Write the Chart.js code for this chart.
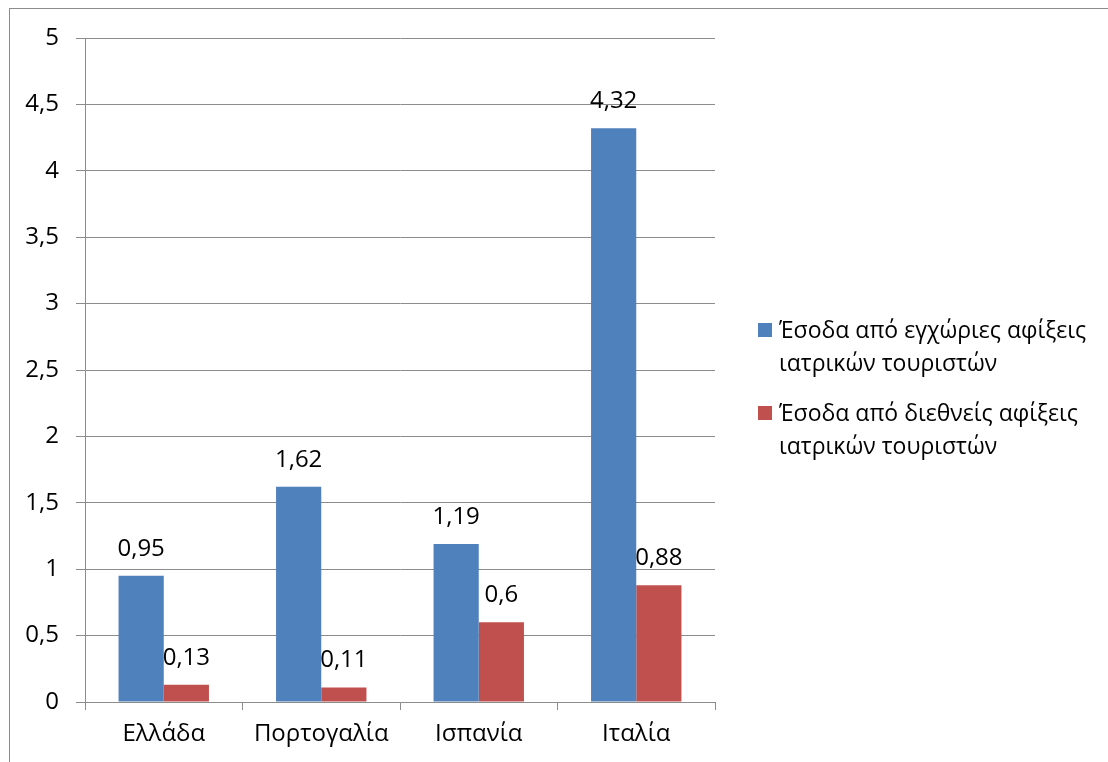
<!DOCTYPE html>
<html>
<head>
<meta charset="utf-8">
<script src="https://cdn.jsdelivr.net/npm/chart.js@4.4.0/dist/chart.umd.min.js"></script>
<style>
    html, body { margin: 0; padding: 0; background: #fff; }
    #wrap { position: relative; width: 1108px; height: 762px; overflow: hidden; }
    #frame { position: absolute; left: 9px; top: 8px; width: 1200px; height: 800px; border: 1px solid #8c8c8c; box-sizing: border-box; }
    #chart { position: absolute; left: 0; top: 0; }
    #legend { position: absolute; left: 758px; top: 313px; font-family: 'Open Sans', sans-serif; font-size: 23px; color: #000; line-height: 33px; white-space: nowrap; }
    .item { position: relative; padding-left: 21px; margin-bottom: 17px; }
    .box { position: absolute; left: 0; top: 10px; width: 14px; height: 14px; }
</style>
</head>
<body>
<div id="wrap">
    <div id="frame"></div>
    <canvas id="chart" width="1108" height="762"></canvas>
    <div id="legend"></div>
</div>
<script>
const categories = ['Ελλάδα', 'Πορτογαλία', 'Ισπανία', 'Ιταλία'];
const seriesNames = [
    ['Έσοδα από εγχώριες αφίξεις', 'ιατρικών τουριστών'],
    ['Έσοδα από διεθνείς αφίξεις', 'ιατρικών τουριστών']
];
const domestic = [0.95, 1.62, 1.19, 4.32];
const international = [0.13, 0.11, 0.6, 0.88];
const colors = ['#4F81BD', '#C0504D'];

const fontFamily = "'Open Sans', sans-serif";
const gridColor = '#8c8c8c';

function commaNum(v) {
    return String(v).replace('.', ',');
}

// value labels above each bar
const valueLabels = {
    id: 'valueLabels',
    afterDatasetsDraw(chart) {
        const ctx = chart.ctx;
        ctx.save();
        ctx.font = '24px ' + fontFamily;
        ctx.fillStyle = '#000';
        ctx.textAlign = 'center';
        ctx.textBaseline = 'middle';
        chart.data.datasets.forEach(function (ds, i) {
            chart.getDatasetMeta(i).data.forEach(function (bar, j) {
                ctx.fillText(commaNum(ds.data[j]), bar.x, bar.y - 27);
            });
        });
        ctx.restore();
    }
};

const config = {
    type: 'bar',
    data: {
        labels: categories,
        datasets: [{
            label: seriesNames[0].join(' '),
            data: domestic,
            backgroundColor: colors[0],
            categoryPercentage: 0.574,
            barPercentage: 1.0
        }, {
            label: seriesNames[1].join(' '),
            data: international,
            backgroundColor: colors[1],
            categoryPercentage: 0.574,
            barPercentage: 1.0
        }]
    },
    options: {
        responsive: false,
        animation: false,
        layout: {
            padding: { top: 38, right: 393, bottom: 0, left: 0 }
        },
        plugins: {
            legend: { display: false },
            tooltip: { enabled: false }
        },
        scales: {
            x: {
                grid: {
                    offset: true,
                    drawOnChartArea: false,
                    drawTicks: true,
                    tickLength: 8,
                    color: gridColor
                },
                border: { color: gridColor, width: 1 },
                ticks: {
                    color: '#000',
                    padding: 10,
                    font: { family: fontFamily, size: 24 }
                },
                afterFit: function (scale) { scale.height = 60; }
            },
            y: {
                min: 0,
                max: 5,
                ticks: {
                    stepSize: 0.5,
                    color: '#000',
                    padding: 17,
                    font: { family: fontFamily, size: 24 },
                    callback: function (v) { return commaNum(v); }
                },
                grid: {
                    color: gridColor,
                    tickLength: 9
                },
                border: { color: gridColor, width: 1 },
                afterFit: function (scale) { scale.width = 85; }
            }
        }
    },
    plugins: [valueLabels]
};

const context = document.getElementById('chart').getContext('2d');
const barChart = new Chart(context, config);

// legend to the right of the plot
const legend = document.getElementById('legend');
seriesNames.forEach(function (lines, i) {
    const item = document.createElement('div');
    item.className = 'item';
    item.innerHTML = '<span class="box" style="background:' + colors[i] + '"></span>' + lines.join('<br>');
    legend.appendChild(item);
});
</script>
</body>
</html>
